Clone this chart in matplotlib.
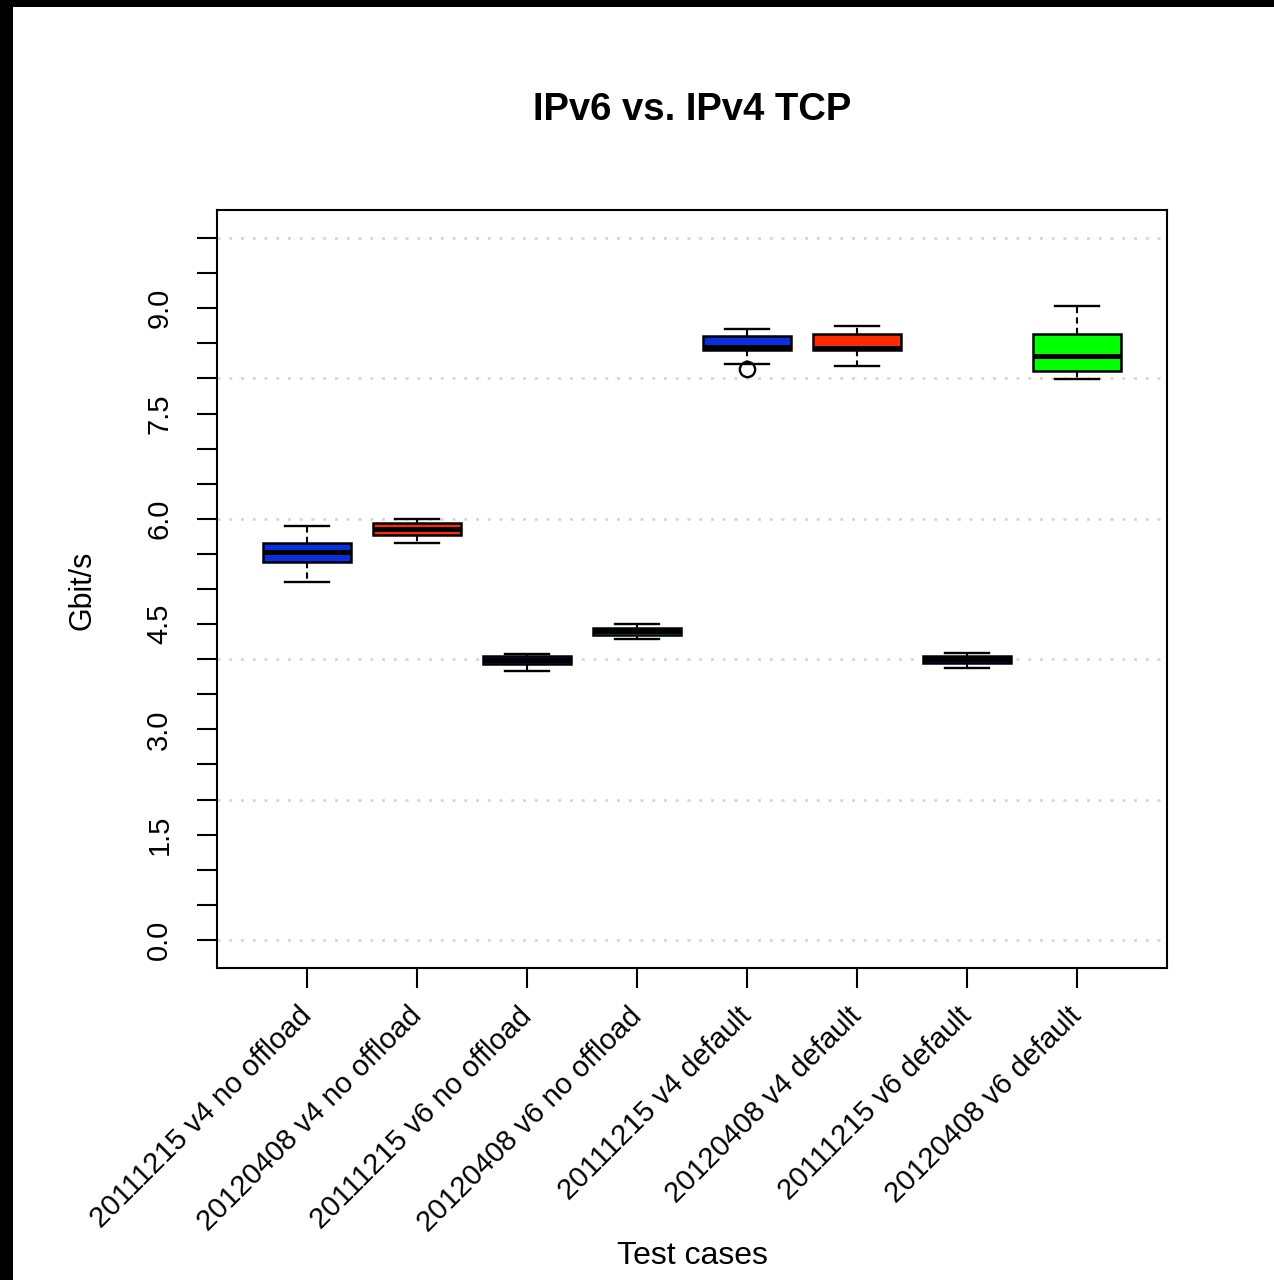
import matplotlib
matplotlib.use("Agg")
import matplotlib.pyplot as plt
from matplotlib.patches import Rectangle
import numpy as np

plt.rcParams["font.family"] = ["Liberation Sans", "DejaVu Sans"]

# throughput summary per test case (Gbit/s)
cases = [
    "20111215 v4 no offload",
    "20120408 v4 no offload",
    "20111215 v6 no offload",
    "20120408 v6 no offload",
    "20111215 v4 default",
    "20120408 v4 default",
    "20111215 v6 default",
    "20120408 v6 default",
]
whisker_low = [5.10, 5.65, 3.83, 4.29, 8.21, 8.18, 3.88, 7.99]
q1 = [5.39, 5.77, 3.93, 4.34, 8.41, 8.40, 3.95, 8.10]
median = [5.53, 5.85, 3.99, 4.40, 8.45, 8.44, 4.00, 8.32]
q3 = [5.66, 5.94, 4.05, 4.45, 8.61, 8.64, 4.05, 8.64]
whisker_high = [5.90, 6.00, 4.08, 4.50, 8.71, 8.75, 4.09, 9.03]
outliers = [[], [], [], [], [8.14], [], [], []]
box_colors = ["#0a2fe0", "#ff2a00", "#0a2fe0", "#00ff00",
              "#0a2fe0", "#ff2a00", "#0a2fe0", "#00ff00"]

y_ticks = np.arange(0, 10.01, 0.5)
grid_levels = [0, 2, 4, 6, 8, 10]

fig = plt.figure(figsize=(12.74, 12.8), dpi=100)
ax = fig.add_axes([217 / 1274, 1 - 968 / 1280, 950 / 1274, 758 / 1280])

for level in grid_levels:
    ax.axhline(level, color="#d4d4d4", linewidth=1.8, linestyle=(0, (1.2, 3.5)), zorder=0)

stats = []
for i in range(len(cases)):
    stats.append({
        "whislo": whisker_low[i], "q1": q1[i], "med": median[i],
        "q3": q3[i], "whishi": whisker_high[i], "fliers": outliers[i],
    })

bp = ax.bxp(
    stats, positions=np.arange(1, len(cases) + 1), widths=0.8, patch_artist=True,
    showfliers=True,
    boxprops=dict(linewidth=1.8, edgecolor="black"),
    medianprops=dict(color="black", linewidth=3.6, solid_capstyle="butt"),
    whiskerprops=dict(color="black", linewidth=1.5, linestyle=(0, (3, 2))),
    capprops=dict(color="black", linewidth=1.7),
    flierprops=dict(marker="o", markersize=11, markerfacecolor="none",
                    markeredgecolor="black", markeredgewidth=1.7),
    capwidths=0.4,
)
for patch, c in zip(bp["boxes"], box_colors):
    patch.set_facecolor(c)

ax.set_xlim(0.18, 8.82)
ax.set_ylim(-0.40, 10.40)

ax.set_yticks(y_ticks)
ax.set_yticklabels([f"{v:.1f}" if abs(v / 1.5 - round(v / 1.5)) < 1e-9 else "" for v in y_ticks],
                   rotation=90, va="center", fontsize=21)
ax.tick_params(axis="y", length=14.5, width=1.5, pad=17)

ax.set_xticks(np.arange(1, len(cases) + 1))
ax.set_xticklabels(cases, rotation=45, ha="right", va="center",
                   rotation_mode="anchor", fontsize=21)
ax.tick_params(axis="x", length=14.5, width=1.5, pad=17)

for s in ax.spines.values():
    s.set_linewidth(1.5)

fig.text(692 / 1274, 1 - 110 / 1280, "IPv6 vs. IPv4 TCP", ha="center", va="center",
         fontsize=27.5, fontweight="bold")
fig.text(83 / 1274, 1 - 590 / 1280, "Gbit/s", ha="center", va="center",
         rotation=90, fontsize=22)
fig.text(692 / 1274, 1 - 1256 / 1280, "Test cases", ha="center", va="center", fontsize=23)

# black strips along the top and left edges
fig.add_artist(Rectangle((0, 1 - 7 / 1280), 1, 7 / 1280, transform=fig.transFigure,
                         facecolor="black", edgecolor="none"))
fig.add_artist(Rectangle((0, 0), 13 / 1274, 1, transform=fig.transFigure,
                         facecolor="black", edgecolor="none"))

fig.savefig("out.png", dpi=100)
